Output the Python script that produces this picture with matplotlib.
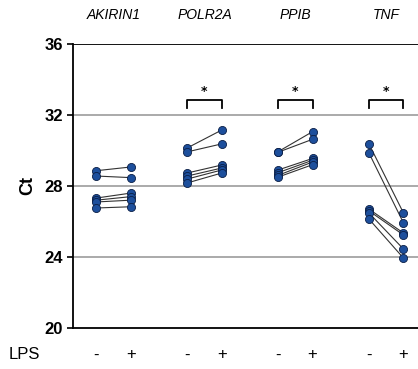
import matplotlib
matplotlib.use("Agg")
import matplotlib.pyplot as plt

genes = ["AKIRIN1", "POLR2A", "PPIB", "TNF"]
ct_minus = [
    [28.86, 28.56, 27.32, 27.20, 27.10, 26.76],
    [30.14, 29.92, 28.73, 28.56, 28.39, 28.17],
    [29.93, 29.90, 28.90, 28.75, 28.60, 28.50],
    [30.37, 29.86, 26.70, 26.60, 26.48, 26.14],
]
ct_plus = [
    [29.07, 28.47, 27.60, 27.40, 27.20, 26.83],
    [31.15, 30.37, 29.18, 29.01, 28.90, 28.73],
    [31.06, 30.63, 29.55, 29.45, 29.35, 29.20],
    [26.48, 25.92, 25.35, 25.24, 24.45, 23.94],
]
significant = [False, True, True, True]

fig = plt.figure(figsize=(4.18, 3.69), dpi=100)
ax = fig.add_axes([0.175, 0.111, 0.825, 0.77])

half = 0.19
blue = "#1d4f9c"
for g in range(len(genes)):
    xm, xp = g - half, g + half
    for a, b in zip(ct_minus[g], ct_plus[g]):
        ax.plot([xm, xp], [a, b], color="#333333", lw=0.8, zorder=3)
    ax.scatter([xm] * len(ct_minus[g]), ct_minus[g], s=34, color=blue,
               edgecolor="#0a1e45", linewidth=0.6, zorder=4)
    ax.scatter([xp] * len(ct_plus[g]), ct_plus[g], s=34, color=blue,
               edgecolor="#0a1e45", linewidth=0.6, zorder=4)
    ax.text(g, 37.6, genes[g], ha="center", va="center", style="italic",
            fontsize=10, family="Liberation Sans")
    if significant[g]:
        ax.plot([xm, xm, xp, xp], [32.4, 32.85, 32.85, 32.4], color="black", lw=1.3)
        ax.text(g, 32.95, "*", ha="center", va="bottom", fontsize=9, fontweight="bold")

for y in [24, 28, 32]:
    ax.axhline(y, color="#aaaaaa", lw=1.4, zorder=1)
ax.axhline(36, color="black", lw=1.3, zorder=1)

ax.set_ylim(20, 36)
ax.set_xlim(-0.445, 3.35)
ax.set_yticks([20, 24, 28, 32, 36])
ax.tick_params(axis="y", labelsize=12, width=1.2, length=4)
for lbl in ax.get_yticklabels():
    lbl.set_fontweight("bold")
    lbl.set_family("Liberation Sans")
ax.set_ylabel("Ct", fontsize=13, fontweight="bold", family="Liberation Sans", labelpad=6)

xt = []
xl = []
for g in range(len(genes)):
    xt += [g - half, g + half]
    xl += ["-", "+"]
ax.set_xticks(xt)
ax.set_xticklabels(xl, fontsize=12, family="Liberation Sans")
ax.tick_params(axis="x", length=0, pad=14)
fig.text(0.02, 0.038, "LPS", fontsize=12, family="Liberation Sans", va="center")

for s in ["top", "right"]:
    ax.spines[s].set_visible(False)
ax.spines["left"].set_linewidth(1.3)
ax.spines["bottom"].set_linewidth(1.3)

fig.savefig("out.png", dpi=100)
